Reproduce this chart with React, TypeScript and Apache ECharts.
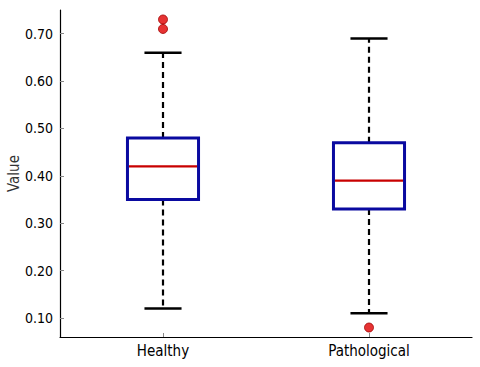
import React, { useEffect, useRef } from "react";
import * as echarts from "echarts";

const categories = ["Healthy", "Pathological"];
// [low whisker, Q1, median, Q3, high whisker]
const boxStats = [
  [0.12, 0.35, 0.42, 0.48, 0.66],
  [0.11, 0.33, 0.39, 0.47, 0.69],
];
const outliers = [
  [0, 0.73],
  [0, 0.71],
  [1, 0.08],
];
const yTicks = [0.1, 0.2, 0.3, 0.4, 0.5, 0.6, 0.7];

export default function App() {
  const ref = useRef<HTMLDivElement>(null);
  useEffect(() => {
    if (!ref.current) return;
    const chart = echarts.init(ref.current, null, { renderer: "svg" });
    const font = "'DejaVu Sans Condensed', 'DejaVu Sans'";
    const boxData = boxStats.map((s, i) => [i, ...s]);
    chart.setOption({
      animation: false,
      grid: { left: 60, right: 8, top: 10, bottom: 30, containLabel: false, outerBoundsMode: "none" },
      xAxis: {
        type: "category",
        data: categories,
        axisLine: { show: true, lineStyle: { color: "#000", width: 1.2 } },
        axisTick: { show: true, inside: true, length: 4, alignWithLabel: true, lineStyle: { color: "#888" } },
        axisLabel: { color: "#000", fontFamily: font, fontSize: 15, margin: 6 },
        splitLine: { show: false },
      },
      yAxis: {
        type: "value",
        min: 0.06,
        max: 0.75,
        name: "Value",
        nameLocation: "middle",
        nameGap: 39,
        nameMoveOverlap: false,
        nameTextStyle: { color: "#333", fontFamily: font, fontSize: 15 },
        axisLine: { show: true, lineStyle: { color: "#000", width: 1.2 } },
        axisTick: { show: true, inside: true, length: 4, customValues: yTicks, lineStyle: { color: "#888" } },
        axisLabel: {
          color: "#000",
          fontFamily: font,
          fontSize: 14,
          margin: 7,
          customValues: yTicks,
          formatter: (v: number) => v.toFixed(2),
        },
        splitLine: { show: false },
      },
      series: [
        {
          type: "custom",
          data: boxData,
          encode: { x: 0, y: [1, 2, 3, 4, 5] },
          renderItem: (params: any, api: any) => {
            const cat = api.value(0);
            const low = api.coord([cat, api.value(1)]);
            const q1 = api.coord([cat, api.value(2)]);
            const med = api.coord([cat, api.value(3)]);
            const q3 = api.coord([cat, api.value(4)]);
            const high = api.coord([cat, api.value(5)]);
            const band = api.size([1, 0])[0];
            const bw = band * 0.345;
            const cw = band * 0.18;
            const x = low[0];
            const whisk = { stroke: "#000", lineWidth: 2.2, lineDash: [6, 4] };
            const cap = { stroke: "#000", lineWidth: 2.5 };
            return {
              type: "group",
              children: [
                { type: "line", shape: { x1: x, y1: q3[1], x2: x, y2: high[1] }, style: whisk },
                { type: "line", shape: { x1: x, y1: q1[1], x2: x, y2: low[1] }, style: whisk },
                { type: "line", shape: { x1: x - cw / 2, y1: high[1], x2: x + cw / 2, y2: high[1] }, style: cap },
                { type: "line", shape: { x1: x - cw / 2, y1: low[1], x2: x + cw / 2, y2: low[1] }, style: cap },
                {
                  type: "rect",
                  shape: { x: x - bw / 2, y: q3[1], width: bw, height: q1[1] - q3[1] },
                  style: { fill: "#fff", stroke: "#0a0aa0", lineWidth: 3 },
                },
                {
                  type: "line",
                  shape: { x1: x - bw / 2 + 1.5, y1: med[1], x2: x + bw / 2 - 1.5, y2: med[1] },
                  style: { stroke: "#c80000", lineWidth: 2.2 },
                },
              ],
            };
          },
          z: 2,
        },
        {
          type: "scatter",
          data: outliers,
          symbol: "circle",
          symbolSize: 9,
          itemStyle: { color: "#e00000", borderColor: "#a00000", borderWidth: 1 },
          z: 3,
        },
      ],
    });
    return () => chart.dispose();
  }, []);
  return (
    <div
      ref={ref}
      style={{ position: "fixed", left: 0, top: 0, width: 480, height: 367, background: "#fff" }}
    />
  );
}
